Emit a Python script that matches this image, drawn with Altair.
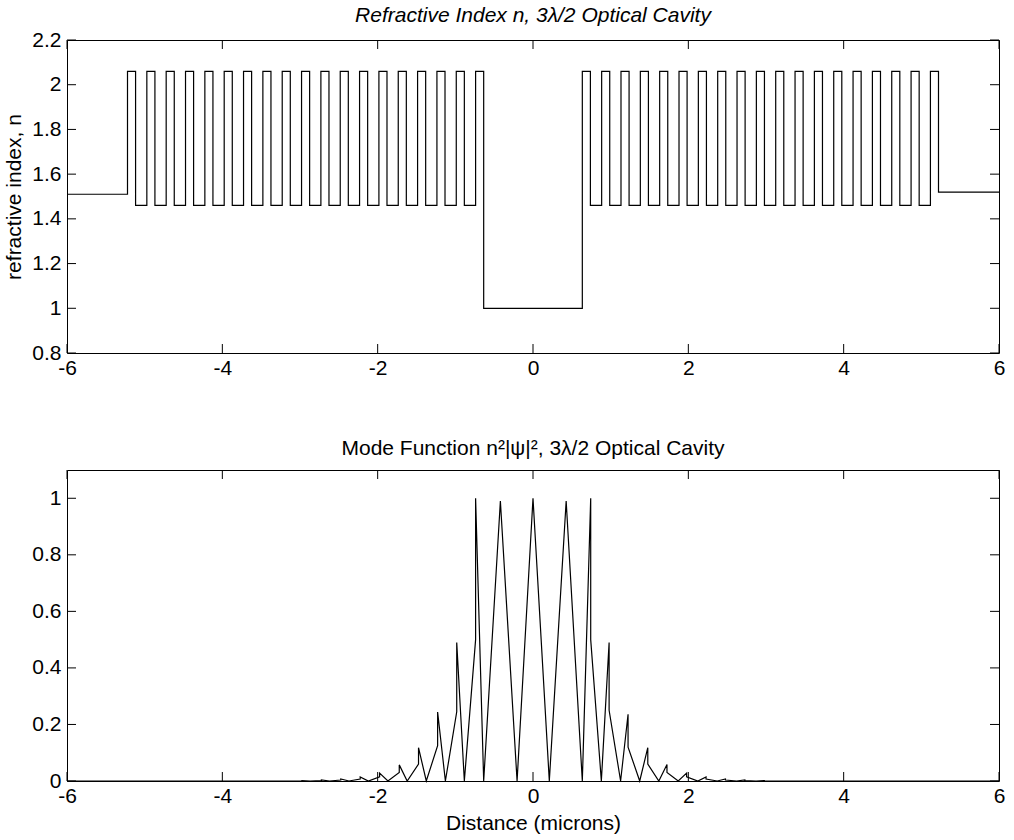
import altair as alt
import pandas as pd

# ---------------- values ----------------
x_ticks = [-6, -4, -2, 0, 2, 4, 6]
top_y_ticks = [0.8, 1, 1.2, 1.4, 1.6, 1.8, 2, 2.2]
bot_y_ticks = [0, 0.2, 0.4, 0.6, 0.8, 1]

# Top panel: layer structure (refractive index profile)
n_outer_left = 1.51
n_outer_right = 1.52
n_high = 2.06
n_low = 1.46
n_cavity = 1.00
cavity_edges = [-0.635, 0.635]
t_high = 0.104
t_low = 0.145
high_layers_per_mirror = 19

# Bottom panel: mode function vertices (peaks, shoulders, nodes)
cavity_x = [-0.42, -0.205, 0.0, 0.21, 0.427]
cavity_y = [0.99, 0.0, 1.0, 0.0, 0.99]

left_peak_x = [-0.739, -0.982, -1.228, -1.474, -1.722, -1.975, -2.225, -2.475, -2.725, -2.975]
left_peak_y = [1.00, 0.49, 0.244, 0.118, 0.057, 0.028, 0.014, 0.007, 0.0035, 0.0017]
left_shoulder_y = [0.50, 0.245, 0.125, 0.060, 0.030, 0.015, 0.007, 0.0035, 0.0018, 0.0009]
left_node_x = [-0.635, -0.884, -1.128, -1.374, -1.620, -1.868, -2.120, -2.370, -2.620, -2.870, -3.120]

right_peak_x = [0.743, 0.980, 1.224, 1.478, 1.725, 1.978, 2.228, 2.478, 2.728, 2.978]
right_peak_y = [1.00, 0.49, 0.236, 0.118, 0.058, 0.028, 0.014, 0.007, 0.0035, 0.0017]
right_shoulder_y = [0.50, 0.25, 0.12, 0.060, 0.030, 0.015, 0.007, 0.0035, 0.0018, 0.0009]
right_node_x = [0.635, 0.880, 1.128, 1.374, 1.620, 1.870, 2.122, 2.372, 2.622, 2.872, 3.122]

# ---------------- build tables ----------------
X_MIN, X_MAX = -6.0, 6.0

segs = []
left_mirror = []
e = cavity_edges[0]
for k in range(high_layers_per_mirror):
    left_mirror.append((e - t_high, e, n_high))
    e -= t_high
    if k < high_layers_per_mirror - 1:
        left_mirror.append((e - t_low, e, n_low))
        e -= t_low
segs.append((X_MIN, e, n_outer_left))
segs.extend(reversed(left_mirror))
segs.append((cavity_edges[0], cavity_edges[1], n_cavity))
e = cavity_edges[1]
for k in range(high_layers_per_mirror):
    segs.append((e, e + t_high, n_high))
    e += t_high
    if k < high_layers_per_mirror - 1:
        segs.append((e, e + t_low, n_low))
        e += t_low
segs.append((e, X_MAX, n_outer_right))

top_rows = []
for (a, b, n) in segs:
    top_rows.append({"x": a, "n": n, "i": len(top_rows)})
    top_rows.append({"x": b, "n": n, "i": len(top_rows)})
top_df = pd.DataFrame(top_rows)

bot_pts = [(X_MIN, 0.0), (left_node_x[-1], 0.0)]
for k in range(len(left_peak_x) - 1, -1, -1):
    bot_pts.append((left_peak_x[k], left_shoulder_y[k]))
    bot_pts.append((left_peak_x[k], left_peak_y[k]))
    bot_pts.append((left_node_x[k], 0.0))
for cx, cy in zip(cavity_x, cavity_y):
    bot_pts.append((cx, cy))
bot_pts.append((right_node_x[0], 0.0))
for k in range(len(right_peak_x)):
    bot_pts.append((right_peak_x[k], right_peak_y[k]))
    bot_pts.append((right_peak_x[k], right_shoulder_y[k]))
    bot_pts.append((right_node_x[k + 1], 0.0))
bot_pts.append((X_MAX, 0.0))
bot_df = pd.DataFrame([{"x": x, "y": y, "i": i} for i, (x, y) in enumerate(bot_pts)])

xt_df = pd.DataFrame({"x": x_ticks})
yt_top_df = pd.DataFrame({"n": top_y_ticks})
yt_bot_df = pd.DataFrame({"y": bot_y_ticks})

# ---------------- styling ----------------
FONT = "Liberation Sans"
FS = 21
W = 932
H_TOP = 313
H_BOT = 311
TICK = 9

x_scale = alt.Scale(domain=[X_MIN, X_MAX], nice=False, zero=False)
top_y_scale = alt.Scale(domain=[0.8, 2.2], nice=False, zero=False)
bot_y_scale = alt.Scale(domain=[0, 1.1], nice=False, zero=False)

X_AXIS = alt.Axis(values=x_ticks, labelExpr="datum.value + ''", ticks=False,
                  tickSize=0, domain=False, grid=False, labelPadding=4,
                  labelFont=FONT, labelFontSize=FS, labelColor="black",
                  titleFont=FONT, titleFontSize=FS, titleFontWeight="normal",
                  titleColor="black", titlePadding=6, labelFlush=False)


def y_axis(vals):
    return alt.Axis(values=vals, labelExpr="datum.value + ''", ticks=False,
                    tickSize=0, domain=False, grid=False, labelPadding=6,
                    labelFont=FONT, labelFontSize=FS, labelColor="black",
                    titleFont=FONT, titleFontSize=FS, titleFontWeight="normal",
                    titleColor="black", titlePadding=7, labelFlush=False)


def panel(df, yfield, y_scale, y_ticks, yt_df, h, x_title, y_title):
    xenc = dict(scale=x_scale, axis=X_AXIS, title=x_title)
    yenc = dict(scale=y_scale, axis=y_axis(y_ticks), title=y_title)
    line = alt.Chart(df).mark_line(color="black", strokeWidth=1.2).encode(
        x=alt.X("x:Q", **xenc), y=alt.Y(f"{yfield}:Q", **yenc), order="i:Q")
    bx = alt.Chart(xt_df).mark_rule(color="black", strokeWidth=1).encode(
        x=alt.X("x:Q", **xenc), y=alt.value(h), y2=alt.value(h - TICK))
    tx = alt.Chart(xt_df).mark_rule(color="black", strokeWidth=1).encode(
        x=alt.X("x:Q", **xenc), y=alt.value(0), y2=alt.value(TICK))
    ly = alt.Chart(yt_df).mark_rule(color="black", strokeWidth=1).encode(
        y=alt.Y(f"{yfield}:Q", **yenc), x=alt.value(0), x2=alt.value(TICK))
    ry = alt.Chart(yt_df).mark_rule(color="black", strokeWidth=1).encode(
        y=alt.Y(f"{yfield}:Q", **yenc), x=alt.value(W), x2=alt.value(W - TICK))
    return alt.layer(line, bx, tx, ly, ry)


top = panel(top_df, "n", top_y_scale, top_y_ticks, yt_top_df, H_TOP,
            None, "refractive index, n").properties(
    width=W, height=H_TOP,
    title=alt.TitleParams(text="Refractive Index n, 3λ/2 Optical Cavity", font=FONT,
                          fontSize=FS, fontWeight="normal", fontStyle="italic",
                          color="black", offset=3))

bot = panel(bot_df, "y", bot_y_scale, bot_y_ticks, yt_bot_df, H_BOT,
            "Distance (microns)", None).properties(
    width=W, height=H_BOT,
    title=alt.TitleParams(text="Mode Function n²|ψ|², 3λ/2 Optical Cavity", font=FONT,
                          fontSize=FS, fontWeight="normal", color="black", offset=11))

chart = alt.vconcat(top, bot, spacing=58).properties(
    padding={"left": 3, "top": 4, "right": 5, "bottom": 5},
    background="white",
).configure_view(stroke="black", strokeWidth=1)

chart.save("out.html", embed_options={"renderer": "svg", "actions": False})
